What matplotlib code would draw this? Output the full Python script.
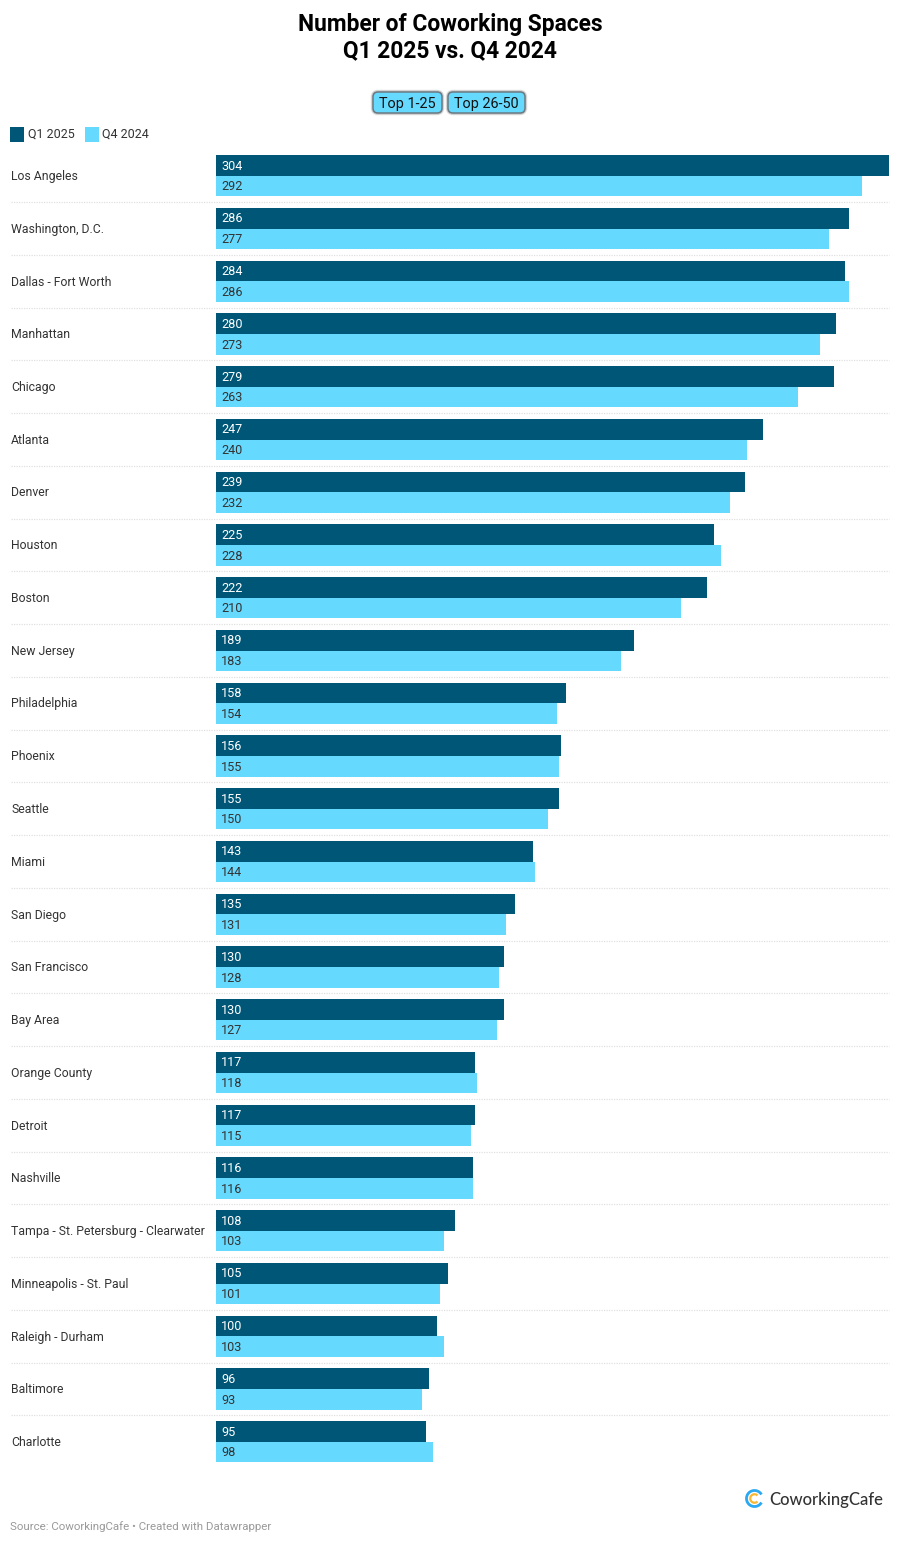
import matplotlib
matplotlib.use("Agg")
import matplotlib.pyplot as plt
from matplotlib.patches import FancyBboxPatch, Arc, Rectangle
import numpy as np

plt.rcParams['font.family'] = ['Roboto', 'DejaVu Sans']

cities = ["Los Angeles", "Washington, D.C.", "Dallas - Fort Worth", "Manhattan", "Chicago",
          "Atlanta", "Denver", "Houston", "Boston", "New Jersey", "Philadelphia", "Phoenix",
          "Seattle", "Miami", "San Diego", "San Francisco", "Bay Area", "Orange County",
          "Detroit", "Nashville", "Tampa - St. Petersburg - Clearwater",
          "Minneapolis - St. Paul", "Raleigh - Durham", "Baltimore", "Charlotte"]
q1_2025 = [304, 286, 284, 280, 279, 247, 239, 225, 222, 189, 158, 156, 155, 143, 135, 130,
           130, 117, 117, 116, 108, 105, 100, 96, 95]
q4_2024 = [292, 277, 286, 273, 263, 240, 232, 228, 210, 183, 154, 155, 150, 144, 131, 128,
           127, 118, 115, 116, 103, 101, 103, 93, 98]
series_names = ["Q1 2025", "Q4 2024"]
buttons = ["Top 1-25", "Top 26-50"]

DARK, LIGHT = "#005676", "#66d9ff"
W, H = 900, 1544
fig = plt.figure(figsize=(W / 100, H / 100), dpi=100, facecolor="white")

ov = fig.add_axes([0, 0, 1, 1], zorder=0)
ov.set_xlim(0, W); ov.set_ylim(H, 0); ov.axis("off")

pitch = 52.75
c0 = 175.8
top, bot = c0 - pitch / 2, c0 + 24.5 * pitch
ax = fig.add_axes([216 / W, 1 - bot / H, (889 - 216) / W, (bot - top) / H], zorder=1)
ax.patch.set_alpha(0)
ax.set_xlim(0, 304)
ax.set_ylim(24.5, -0.5)
ax.axis("off")

y = np.arange(len(cities))
bh = 20.6 / pitch
ax.barh(y - bh / 2, q1_2025, height=bh, color=DARK, linewidth=0)
ax.barh(y + bh / 2, q4_2024, height=bh, color=LIGHT, linewidth=0)

off = 5.0 / (673 / 304)
shift = 0.8 / pitch
for i, (a, b) in enumerate(zip(q1_2025, q4_2024)):
    ax.text(off, i - bh / 2 - shift, str(a), color="white", fontsize=9.1, va="center_baseline", ha="left")
    ax.text(off, i + bh / 2 - shift, str(b), color="#333333", fontsize=9.1, va="center_baseline", ha="left")

for i, c in enumerate(cities):
    yc = c0 + i * pitch
    ov.text(11.2, yc - 0.8, c, fontsize=8.87, color="#333333", va="center_baseline", ha="left")
    if i < len(cities) - 1:
        ov.plot([11, 889], [yc + pitch / 2, yc + pitch / 2], color="#e0e0e0", lw=0.9,
                ls=(0, (1, 1)), solid_capstyle="butt")

ov.text(450, 22.5, "Number of Coworking Spaces", fontsize=16.35, fontweight="bold", color="black",
        ha="center", va="center_baseline")
ov.text(450, 47.9, "Q1 2025 vs. Q4 2024", fontsize=16.35, fontweight="bold", color="black",
        ha="center", va="center_baseline")

for (x0, x1), label in zip([(373, 442), (448, 525)], buttons):
    for lw, alpha in [(3.4, 0.12), (2.4, 0.22)]:
        ov.add_patch(FancyBboxPatch((x0 + 4, 92 + 4), x1 - x0 - 8, 21 - 8,
                                    boxstyle="round,pad=4,rounding_size=5", fc="none",
                                    ec="#555555", lw=lw, alpha=alpha))
    ov.add_patch(FancyBboxPatch((x0 + 4, 92 + 4), x1 - x0 - 8, 21 - 8,
                                boxstyle="round,pad=4,rounding_size=5", fc=LIGHT, ec="#6a7a82", lw=1.1))
    ov.text((x0 + x1) / 2, 102.5, label, fontsize=10.4, color="#111111", ha="center",
            va="center_baseline")

for x0, col, name, tx in [(10, DARK, series_names[0], 27.5), (85, LIGHT, series_names[1], 102)]:
    ov.add_patch(Rectangle((x0, 127), 14, 14.5, fc=col, ec="none"))
    ov.text(tx, 132.8, name, fontsize=9, color="#333333", ha="left", va="center_baseline")

ov.add_patch(Arc((754.5, 1498.5), 16, 16, theta1=30, theta2=330, color="#2aa8f2", lw=2.0))
ov.add_patch(Arc((754.5, 1498.5), 8.5, 8.5, theta1=45, theta2=315, color="#f7b733", lw=1.6))
ov.text(769, 1498.5, "CoworkingCafe", fontsize=12.0, fontweight="medium", family=["Lato", "DejaVu Sans"],
        color="#333333", ha="left", va="center_baseline")

ov.text(10.5, 1525.5, "Source: CoworkingCafe • Created with Datawrapper", fontsize=8.28,
        color="#9a9a9a", ha="left", va="center_baseline")

fig.savefig("out.png", dpi=100, facecolor="white")
